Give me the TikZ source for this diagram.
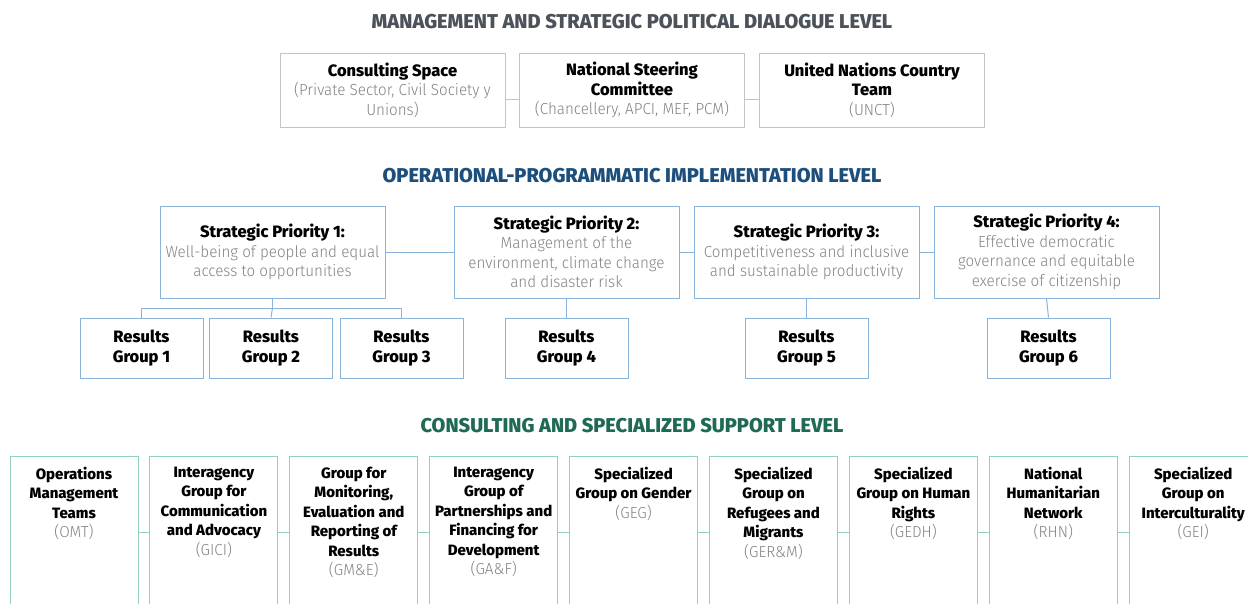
\documentclass[tikz,border=0pt]{standalone}
\usepackage{fontspec}
\setmainfont{Fira Sans Light}[FakeStretch=0.95]
\newfontfamily\bfont{Fira Sans ExtraBold}
\newfontfamily\headfont{Fira Sans ExtraBold}
\definecolor{grayline}{HTML}{C4C4C4}
\definecolor{bodygray}{HTML}{828282}
\definecolor{titlegray}{HTML}{4B5259}
\definecolor{titleblue}{HTML}{1D4F7C}
\definecolor{blueline}{HTML}{8AB4DC}
\definecolor{titlegreen}{HTML}{1E6A55}
\definecolor{tealline}{HTML}{93D0C4}
\newcommand{\sub}[1]{{\color{bodygray}#1}}
\newcommand{\bt}[1]{{\bfont\fontsize{16.5}{19.5}\selectfont #1}}
\newcommand{\bs}[1]{{\bfont\fontsize{15}{19.5}\selectfont #1}}
\begin{document}
\begin{tikzpicture}[x=1pt,y=-1pt,
  boxfont/.style={font=\fontsize{16}{19.5}\selectfont},
  heading/.style={font=\headfont\fontsize{20}{22}\selectfont, inner sep=0},
  topbox/.style={draw=grayline, line width=1pt, minimum width=225pt, minimum height=74pt, inner sep=0, align=center, boxfont},
  spbox/.style={draw=blueline, line width=1pt, minimum width=225pt, minimum height=92pt, inner sep=0, align=center, boxfont},
  resbox/.style={draw=blueline, line width=1pt, minimum width=123pt, minimum height=60pt, inner sep=0, align=center, boxfont},
  supbox/.style={draw=tealline, line width=1pt, minimum width=128pt, minimum height=152pt, inner sep=0},
  suptext/.style={anchor=north, inner sep=0, align=center, boxfont},
  grayconn/.style={draw=grayline, line width=1pt},
  blueconn/.style={draw=blueline, line width=1pt},
  tealconn/.style={draw=tealline, line width=1pt}]
\useasboundingbox (0,0) rectangle (1248,603);
\clip (0,0) rectangle (1248,603);

% ---------- level 1
\node[heading, text=titlegray] (t1) at (632,22) {MANAGEMENT AND STRATEGIC POLITICAL DIALOGUE LEVEL};
\node[topbox] (cs) at (392.5,90) {\bt{Consulting Space}\\\sub{(Private Sector, Civil Society y}\\\sub{Unions)}};
\node[topbox] (nsc) at (632,90) {\bt{National Steering}\\\bt{Committee}\\\sub{(Chancellery, APCI, MEF, PCM)}};
\node[topbox] (unct) at (872,90) {\bt{United Nations Country}\\\bt{Team}\\\sub{(UNCT)}};
\draw[grayconn] ([yshift=-9pt]cs.east) -- ([yshift=-9pt]nsc.west);
\draw[grayconn] ([yshift=-9pt]nsc.east) -- ([yshift=-9pt]unct.west);

% ---------- level 2
\node[heading, text=titleblue] (t2) at (632,176) {OPERATIONAL-PROGRAMMATIC IMPLEMENTATION LEVEL};
\node[spbox] (sp1) at (272.5,252) {\bt{Strategic Priority 1:}\\\sub{Well-being of people and equal}\\\sub{access to opportunities}};
\node[spbox] (sp2) at (566.5,252) {\bt{Strategic Priority 2:}\\\sub{Management of the}\\\sub{environment, climate change}\\\sub{and disaster risk}};
\node[spbox] (sp3) at (806.5,252) {\bt{Strategic Priority 3:}\\\sub{Competitiveness and inclusive}\\\sub{and sustainable productivity}};
\node[spbox] (sp4) at (1046.5,252) {\bt{Strategic Priority 4:}\\\sub{Effective democratic}\\\sub{governance and equitable}\\\sub{exercise of citizenship}};
\draw[blueconn] (sp1.east) -- (sp2.west);
\draw[blueconn] (sp2.east) -- (sp3.west);
\draw[blueconn] (sp3.east) -- (sp4.west);

\node[resbox] (rg1) at (141.5,348) {\bt{Results}\\\bt{Group 1}};
\node[resbox] (rg2) at (271,348) {\bt{Results}\\\bt{Group 2}};
\node[resbox] (rg3) at (401.5,348) {\bt{Results}\\\bt{Group 3}};
\node[resbox] (rg4) at (566.5,348) {\bt{Results}\\\bt{Group 4}};
\node[resbox] (rg5) at (806.5,348) {\bt{Results}\\\bt{Group 5}};
\node[resbox] (rg6) at (1048.5,348) {\bt{Results}\\\bt{Group 6}};
\coordinate (j1) at (272.5,308);
\draw[blueconn] (sp1.south) -- (j1);
\draw[blueconn] (rg1.north) -- (rg1.north |- j1) -- (rg3.north |- j1) -- (rg3.north);
\draw[blueconn] (j1) -- (rg2.north);
\draw[blueconn] (sp2.south) -- (rg4.north);
\draw[blueconn] (sp3.south) -- (rg5.north);
\draw[blueconn] (sp4.south) -- (rg6.north);

% ---------- level 3
\node[heading, text=titlegreen] (t3) at (632,426) {CONSULTING AND SPECIALIZED SUPPORT LEVEL};
\foreach \i/\x in {1/74,2/213.9,3/353.8,4/493.7,5/633.6,6/773.5,7/913.4,8/1053.3,9/1193.2}{
  \node[supbox] (b\i) at (\x,532) {};
}
\foreach \i [evaluate=\i as \j using int(\i+1)] in {1,...,8}{
  \draw[tealconn] (b\i.east) -- (b\j.west);
}
\node[suptext] (s1) at ([yshift=-11pt]b1.north) {\bs{Operations}\\\bs{Management}\\\bs{Teams}\\\sub{(OMT)}};
\node[suptext] (s2) at ([yshift=-11pt]b2.north) {\bs{Interagency}\\\bs{Group for}\\\bs{Communication}\\\bs{and Advocacy}\\\sub{(GICI)}};
\node[suptext] (s3) at ([yshift=-11pt]b3.north) {\bs{Group for}\\\bs{Monitoring,}\\\bs{Evaluation and}\\\bs{Reporting of}\\\bs{Results}\\\sub{(GM\&E)}};
\node[suptext] (s4) at ([yshift=-11pt]b4.north) {\bs{Interagency}\\\bs{Group of}\\\bs{Partnerships and}\\\bs{Financing for}\\\bs{Development}\\\sub{(GA\&F)}};
\node[suptext] (s5) at ([yshift=-11pt]b5.north) {\bs{Specialized}\\\bs{Group on Gender}\\\sub{(GEG)}};
\node[suptext] (s6) at ([yshift=-11pt]b6.north) {\bs{Specialized}\\\bs{Group on}\\\bs{Refugees and}\\\bs{Migrants}\\\sub{(GER\&M)}};
\node[suptext] (s7) at ([yshift=-11pt]b7.north) {\bs{Specialized}\\\bs{Group on Human}\\\bs{Rights}\\\sub{(GEDH)}};
\node[suptext] (s8) at ([yshift=-11pt]b8.north) {\bs{National}\\\bs{Humanitarian}\\\bs{Network}\\\sub{(RHN)}};
\node[suptext] (s9) at ([yshift=-11pt]b9.north) {\bs{Specialized}\\\bs{Group on}\\\bs{Interculturality}\\\sub{(GEI)}};
\end{tikzpicture}
\end{document}
